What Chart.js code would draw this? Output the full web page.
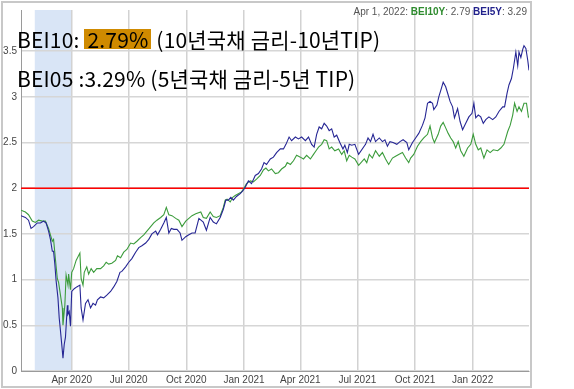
<!DOCTYPE html>
<html>
<head>
<meta charset="utf-8">
<script src="https://cdn.jsdelivr.net/npm/chart.js@4.4.1/dist/chart.umd.min.js"></script>
<style>
  body { margin: 0; background: #fff; }
  #wrap { position: relative; width: 574px; height: 389px; overflow: hidden; }
  #frame { position: absolute; left: 1px; top: 1px; width: 527px; height: 383px; border: 2px solid #c8c8c8; }
  canvas { position: absolute; left: 0; top: 0; }
  .title { position: absolute; left: 17px; font-family: "Noto Sans CJK KR"; font-size: 21px; letter-spacing: 0.18px; color: #000; white-space: nowrap; line-height: 24px; }
  .hl { display: inline-block; background: #cf8a00; line-height: 20px; padding: 0 3px; }
  #legend { position: absolute; right: 47px; top: 6px; font: 10px "Liberation Sans"; color: #555; white-space: nowrap; }
  #legend b.g { color: #2e8b2e; }
  #legend b.b { color: #22228c; }
</style>
</head>
<body>
<div id="wrap">
  <div id="frame"></div>
  <canvas id="chart" width="574" height="389"></canvas>
  <div id="legend">Apr 1, 2022: <b class="g">BEI10Y</b>: 2.79 <b class="b">BEI5Y</b>: 3.29</div>
  <div class="title" style="top:27px">BEI10: <span class="hl">2.79%</span> (10년국채 금리-10년TIP)</div>
  <div class="title" style="top:66px">BEI05 :3.29% (5년국채 금리-5년 TIP)</div>
</div>
<script>
// x values are days counted from 2020-01-01
const quarterDays = [91, 182, 274, 366, 456, 547, 639, 731];
const quarterLabels = ['Apr 2020', 'Jul 2020', 'Oct 2020', 'Jan 2021', 'Apr 2021', 'Jul 2021', 'Oct 2021', 'Jan 2022'];
const yTicks = [0, 0.5, 1, 1.5, 2, 2.5, 3, 3.5];
const yTickLabels = ['0', '0.5', '1', '1.5', '2', '2.5', '3', '3.5'];
const recession = [32, 91];
const refLevel = 2;

// BEI10Y (10y breakeven)
const bei10Days = [10,17,22,28,33,38,44,49,54,57,60,62,65,68,70,73,76,77,80,82,85,86,89,91,94,98,104,106,109,111,
  115,118,122,126,131,137,142,146,150,155,161,164,169,174,179,185,190,195,201,206,211,217,222,227,233,238,242,246,251,257,
  262,267,273,278,283,289,297,
  301,306,312,317,322,328,333,336,339,344,348,352,357,362,366,370,376,381,386,392,397,401,405,410,416,421,426,432,435,440,
  445,450,456,461,466,472,477,481,485,490,494,498,502,506,511,517,522,526,530,534,538,543,549,
  558,562,566,571,576,582,587,592,597,603,608,613,619,624,629,632,637,643,648,653,659,663,667,670,676,680,684,688,692,696,
  700,704,708,712,717,723,728,732,736,740,744,749,754,759,764,771,776,781,787,791,795,798,802,805,809,813,817,820,821];
const bei10Values = [1.76,1.74,1.71,1.64,1.625,1.65,1.64,1.64,1.56,1.49,1.42,1.44,1.22,1.01,0.97,0.83,0.69,0.50,0.72,1.05,
  0.94,1.06,0.89,1.08,1.12,1.21,1.29,1.01,0.94,1.08,1.14,1.06,1.12,1.08,1.12,1.12,1.15,1.19,1.17,1.18,
  1.21,1.26,1.24,1.30,1.33,1.40,1.39,1.42,1.46,1.49,1.53,1.58,1.62,1.65,1.68,1.71,1.79,1.71,1.70,1.67,
  1.65,1.58,1.64,1.67,1.70,1.72,1.74,
  1.68,1.67,1.74,1.69,1.68,1.70,1.79,1.87,1.88,1.85,1.90,1.92,1.94,1.96,2.00,2.05,2.08,2.07,2.10,2.14,
  2.20,2.22,2.19,2.21,2.16,2.17,2.21,2.24,2.28,2.26,2.30,2.36,2.34,2.32,2.36,2.32,2.37,2.41,2.45,2.48,
  2.53,2.52,2.43,2.45,2.41,2.43,2.37,2.41,2.30,2.36,2.34,2.32,2.25,
  2.32,2.28,2.37,2.33,2.41,2.35,2.39,2.32,2.26,2.33,2.35,2.37,2.39,2.33,2.28,2.33,2.37,2.46,2.51,2.55,
  2.59,2.68,2.55,2.50,2.59,2.68,2.72,2.66,2.60,2.55,2.51,2.44,2.51,2.41,2.35,2.44,2.48,2.59,2.48,2.42,
  2.44,2.33,2.42,2.39,2.42,2.41,2.44,2.48,2.62,2.69,2.80,2.93,2.84,2.89,2.84,2.93,2.93,2.78,2.79];

// BEI5Y (5y breakeven)
const bei5Days = [10,17,22,26,30,36,41,46,50,54,57,60,62,64,66,69,71,73,76,77,79,81,84,85,87,89,91,95,99,104,
  106,109,113,117,121,125,129,132,137,142,147,153,158,163,168,171,177,182,187,193,198,203,209,214,219,225,228,233,238,242,
  246,250,254,259,264,267,273,278,283,288,294,
  301,306,312,317,322,328,333,337,341,345,349,354,360,364,368,373,378,384,389,394,398,402,408,413,418,424,429,433,438,442,
  448,453,458,464,469,474,478,482,486,490,494,498,502,506,510,514,519,524,527,531,534,538,543,549,
  560,564,568,572,576,582,587,591,595,599,604,610,615,620,626,629,635,640,645,651,655,659,663,667,669,674,677,681,684,688,
  692,695,699,702,707,711,715,720,725,730,733,736,740,744,748,752,757,763,768,773,779,782,786,789,793,796,800,803,805,808,
  811,813,816,819,821];
const bei5Values = [1.70,1.68,1.65,1.56,1.58,1.62,1.62,1.64,1.62,1.53,1.44,1.31,1.31,1.17,0.99,0.80,0.58,0.44,0.22,0.14,
  0.29,0.37,0.72,0.62,0.65,0.49,0.87,0.90,0.92,0.94,0.69,0.56,0.74,0.78,0.69,0.74,0.72,0.78,0.81,0.80,
  0.83,0.87,0.92,0.98,1.08,1.09,1.14,1.19,1.23,1.30,1.35,1.37,1.40,1.44,1.50,1.53,1.49,1.55,1.62,1.68,
  1.51,1.56,1.55,1.55,1.51,1.43,1.47,1.49,1.51,1.51,1.67,
  1.63,1.54,1.68,1.63,1.61,1.68,1.77,1.87,1.87,1.90,1.87,1.91,1.94,1.97,2.01,2.08,2.05,2.14,2.16,2.21,
  2.28,2.26,2.32,2.34,2.39,2.43,2.43,2.48,2.56,2.52,2.56,2.54,2.56,2.52,2.56,2.48,2.45,2.59,2.67,2.65,
  2.71,2.68,2.63,2.65,2.56,2.58,2.50,2.43,2.47,2.39,2.48,2.47,2.48,2.37,
  2.48,2.55,2.51,2.59,2.51,2.55,2.51,2.53,2.46,2.51,2.50,2.48,2.51,2.53,2.50,2.42,2.50,2.55,2.60,2.69,
  2.77,2.93,2.95,2.93,2.86,2.91,3.00,3.09,3.16,3.11,3.02,2.95,2.89,2.77,2.87,2.73,2.64,2.71,2.78,2.82,
  2.93,2.77,2.80,2.78,2.71,2.75,2.78,2.75,2.78,2.84,2.89,2.89,3.04,3.13,3.20,3.31,3.49,3.34,3.49,3.43,
  3.52,3.56,3.53,3.40,3.29];

const xMin = 10, xMax = 821;

// recession band, drawn under the grid
const shadePlugin = {
  id: 'shade',
  beforeDraw(chart) {
    const { ctx, chartArea, scales } = chart;
    const x0 = scales.x.getPixelForValue(recession[0]);
    const x1 = scales.x.getPixelForValue(recession[1]);
    ctx.save();
    ctx.fillStyle = '#d9e5f6';
    ctx.fillRect(x0, chartArea.top, x1 - x0, chartArea.bottom - chartArea.top);
    ctx.restore();
  }
};

const tickFont = { family: 'Liberation Sans', size: 10 };

new Chart(document.getElementById('chart'), {
  type: 'line',
  data: {
    datasets: [
      {
        label: 'BEI5Y',
        data: bei5Days.map((d, i) => ({ x: d, y: bei5Values[i] })),
        borderColor: '#262694',
        borderWidth: 1.1,
        pointRadius: 0
      },
      {
        label: 'BEI10Y',
        data: bei10Days.map((d, i) => ({ x: d, y: bei10Values[i] })),
        borderColor: '#3c9c3c',
        borderWidth: 1.1,
        pointRadius: 0
      },
      {
        label: 'ref',
        data: [{ x: xMin, y: refLevel }, { x: xMax, y: refLevel }],
        borderColor: '#ff0000',
        borderWidth: 1.5,
        pointRadius: 0
      }
    ]
  },
  options: {
    responsive: false,
    animation: false,
    layout: { padding: { left: 0, top: 3, right: 45, bottom: 0 } },
    plugins: { legend: { display: false }, tooltip: { enabled: false } },
    scales: {
      x: {
        type: 'linear',
        min: xMin,
        max: xMax,
        afterBuildTicks: (scale) => { scale.ticks = quarterDays.map(v => ({ value: v })); },
        afterFit: (scale) => { scale.height = 18; },
        ticks: {
          autoSkip: false,
          maxRotation: 0,
          padding: 3,
          color: '#444',
          font: tickFont,
          callback: (v, i) => quarterLabels[i]
        },
        grid: { color: '#d2d2d2', lineWidth: 1.5, drawTicks: false },
        border: { color: '#9a9a9a', width: 1 }
      },
      y: {
        min: 0,
        max: 3.95,
        afterBuildTicks: (scale) => { scale.ticks = yTicks.map(v => ({ value: v })); },
        afterFit: (scale) => { scale.width = 21; },
        ticks: {
          padding: 4,
          color: '#444',
          font: tickFont,
          callback: (v, i) => yTickLabels[i]
        },
        grid: { color: '#d6d6d6', lineWidth: 1.5, drawTicks: false },
        border: { color: '#9a9a9a', width: 1 }
      }
    }
  },
  plugins: [shadePlugin]
});
</script>
</body>
</html>
